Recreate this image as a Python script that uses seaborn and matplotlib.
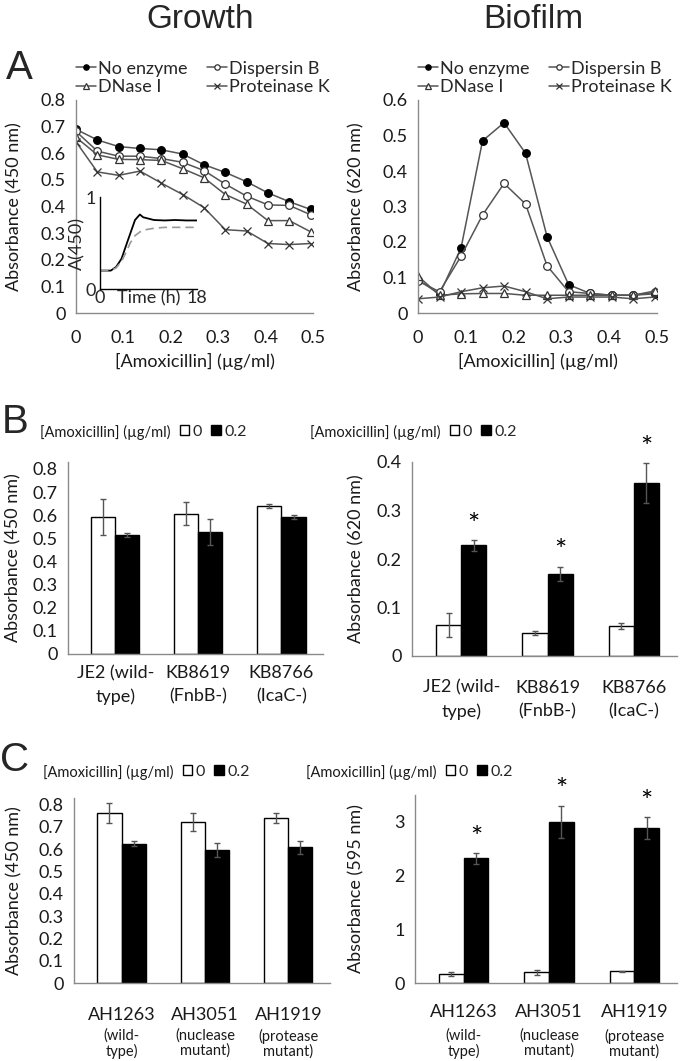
import matplotlib
matplotlib.use("Agg")
import matplotlib.pyplot as plt
import matplotlib.ticker as mticker
import seaborn as sns
import pandas as pd

# ---- data ----
conc = [0, 0.045, 0.09, 0.135, 0.18, 0.225, 0.27, 0.315, 0.36, 0.405, 0.45, 0.495]
enzymes = ["No enzyme", "Dispersin B", "DNase I", "Proteinase K"]

growth_none = [0.69, 0.65, 0.625, 0.618, 0.613, 0.597, 0.557, 0.528, 0.493, 0.451, 0.418, 0.389]
growth_dspb = [0.682, 0.608, 0.589, 0.589, 0.58, 0.566, 0.535, 0.484, 0.439, 0.406, 0.404, 0.369]
growth_dnase = [0.66, 0.594, 0.577, 0.576, 0.573, 0.542, 0.508, 0.445, 0.409, 0.347, 0.347, 0.305]
growth_protk = [0.643, 0.53, 0.517, 0.533, 0.488, 0.445, 0.396, 0.313, 0.308, 0.261, 0.257, 0.261]

biofilm_none = [0.094, 0.053, 0.183, 0.485, 0.536, 0.45, 0.215, 0.08, 0.055, 0.05, 0.05, 0.054]
biofilm_dspb = [0.09, 0.06, 0.16, 0.276, 0.365, 0.307, 0.133, 0.06, 0.055, 0.05, 0.05, 0.058]
biofilm_dnase = [0.104, 0.05, 0.054, 0.055, 0.055, 0.05, 0.05, 0.05, 0.05, 0.05, 0.05, 0.062]
biofilm_protk = [0.04, 0.045, 0.06, 0.071, 0.076, 0.06, 0.04, 0.045, 0.045, 0.045, 0.04, 0.045]

# inset growth curves
time_h = [0, 1, 2, 3, 4, 5, 5.6, 6.5, 7.4, 8, 10, 12, 14, 16, 18]
od_none = [0.2, 0.2, 0.2, 0.24, 0.33, 0.5, 0.6, 0.75, 0.81, 0.78, 0.75, 0.745, 0.75, 0.745, 0.745]
od_amox = [0.2, 0.2, 0.2, 0.23, 0.3, 0.42, 0.5, 0.58, 0.62, 0.64, 0.66, 0.67, 0.67, 0.67, 0.67]

amox_levels = ["0", "0.2"]

strains_b = ["JE2 (wild-\ntype)", "KB8619\n(FnbB-)", "KB8766\n(IcaC-)"]
b_growth_0 = [0.594, 0.607, 0.640]
b_growth_0_err = [0.078, 0.048, 0.008]
b_growth_2 = [0.514, 0.528, 0.592]
b_growth_2_err = [0.01, 0.057, 0.008]
b_biofilm_0 = [0.064, 0.048, 0.062]
b_biofilm_0_err = [0.025, 0.004, 0.006]
b_biofilm_2 = [0.228, 0.169, 0.356]
b_biofilm_2_err = [0.011, 0.015, 0.041]

strains_c = ["AH1263", "AH3051", "AH1919"]
strains_c_sub = ["(wild-\ntype)", "(nuclease\nmutant)", "(protease\nmutant)"]
c_growth_0 = [0.761, 0.721, 0.739]
c_growth_0_err = [0.045, 0.04, 0.022]
c_growth_2 = [0.625, 0.597, 0.609]
c_growth_2_err = [0.012, 0.033, 0.03]
c_biofilm_0 = [0.174, 0.20, 0.22]
c_biofilm_0_err = [0.04, 0.05, 0.01]
c_biofilm_2 = [2.32, 3.00, 2.89]
c_biofilm_2_err = [0.1, 0.3, 0.2]

# ---- style ----
sns.set_style("white")
plt.rcParams["font.family"] = ["Lato", "DejaVu Sans"]
plt.rcParams["axes.linewidth"] = 1.0

W, H = 680, 1061
fig = plt.figure(figsize=(W / 100, H / 100), dpi=100)

AXIS_GREY = "#8a8a8a"
LINE_GREY = "#555555"
TXT = "#1a1a1a"


def px_axes(left, top, right, bottom):
    ax = fig.add_axes([left / W, 1 - bottom / H, (right - left) / W, (bottom - top) / H])
    ax._px = (left, right)
    return ax


def excel_axes(ax, ylabel, label_px):
    sns.despine(ax=ax)
    for s in ("left", "bottom"):
        ax.spines[s].set_color(AXIS_GREY)
    ax.tick_params(axis="both", direction="out", length=4, width=1,
                   color=AXIS_GREY, labelsize=13, labelcolor=TXT)
    ax.set_ylabel(ylabel, fontsize=13, color=TXT)
    left, right = ax._px
    ax.yaxis.set_label_coords((label_px + 9 - left) / (right - left), 0.5)
    ax.yaxis.set_major_formatter(mticker.FuncFormatter(lambda v, p: f"{v:g}"))


def line_panel(ax, series, ylim, yticks, ylabel, legend_x, label_px):
    styles = [dict(marker="o", markerfacecolor="black", markeredgecolor="black"),
              dict(marker="o", markerfacecolor="white", markeredgecolor="#333333"),
              dict(marker="^", markerfacecolor="white", markeredgecolor="#333333"),
              dict(marker="x", markeredgecolor="#333333")]
    for name, vals, st in zip(enzymes, series, styles):
        sns.lineplot(x=conc, y=vals, ax=ax, color=LINE_GREY, linewidth=1.1,
                     markersize=5.5, markeredgewidth=0.9, label=name, **st)
    ax.set_xlim(0, 0.5)
    ax.set_ylim(*ylim)
    ax.set_xticks([0, 0.1, 0.2, 0.3, 0.4, 0.5])
    ax.set_yticks(yticks)
    ax.xaxis.set_major_formatter(mticker.FuncFormatter(lambda v, p: f"{v:g}"))
    excel_axes(ax, ylabel, label_px)
    ax.set_xlabel("[Amoxicillin] (µg/ml)", fontsize=13, color=TXT, labelpad=5)
    ax.tick_params(axis="x", pad=8)
    handles, labels = ax.get_legend_handles_labels()
    order = [0, 2, 1, 3]  # fill rows: No enzyme / Dispersin B on top
    ax.legend([handles[i] for i in order], [labels[i] for i in order], ncol=2,
              loc="center left", frameon=False,
              bbox_to_anchor=(legend_x / W, 1 - 78 / H), bbox_transform=fig.transFigure,
              fontsize=13, handlelength=1.1, handletextpad=0.1, columnspacing=1.1,
              labelspacing=0.15, borderpad=0, borderaxespad=0, markerscale=0.7)


def bar_panel(ax, strains, v0, e0, v2, e2, ylim, yticks, ylabel, label_px,
              xpad=9, stars=False):
    df = pd.DataFrame({"strain": strains * 2,
                       "amox": [amox_levels[0]] * 3 + [amox_levels[1]] * 3,
                       "absorbance": v0 + v2})
    sns.barplot(data=df, x="strain", y="absorbance", hue="amox", ax=ax,
                palette={"0": "white", "0.2": "black"}, edgecolor="black",
                linewidth=1, width=0.58, errorbar=None)
    for k, (cont, errs) in enumerate(zip(ax.containers, [e0, e2])):
        xs = [p.get_x() + p.get_width() / 2 for p in cont]
        ys = [p.get_height() for p in cont]
        ax.errorbar(xs, ys, yerr=errs, fmt="none", ecolor="#555555",
                    elinewidth=1, capsize=2.5, capthick=1)
        if stars and k == 1:
            for x, y, e in zip(xs, ys, errs):
                ax.annotate("*", xy=(x, y + e), xytext=(0, 1), textcoords="offset points",
                            ha="center", va="bottom", fontsize=21, color="black",
                            annotation_clip=False)
    ax.set_xlim(-0.57, 2.5)
    ax.set_ylim(*ylim)
    ax.set_yticks(yticks)
    excel_axes(ax, ylabel, label_px)
    ax.tick_params(axis="x", length=0, pad=xpad)
    ax.set_xlabel("")
    for t in ax.get_xticklabels():
        t.set_linespacing(1.55)
    ax.get_legend().remove()


def bar_legend(ax, text_x, y):
    handles, labels = ax.get_legend_handles_labels()
    t = fig.text(text_x / W, 1 - y / H, "[Amoxicillin] (µg/ml)", fontsize=10.5,
                 va="center", ha="left", color=TXT)
    fig.canvas.draw()
    ext = t.get_window_extent()
    ax.legend(handles[:2], labels[:2], ncol=2, loc="center left", frameon=False,
              bbox_to_anchor=((ext.x1 + 9) / W, 1 - y / H), bbox_transform=fig.transFigure,
              fontsize=11.5, handlelength=0.6, handleheight=0.6, handletextpad=0.2,
              columnspacing=0.6, borderpad=0, borderaxespad=0)


# ---- Panel A ----
ax_ag = px_axes(76, 100, 313, 313)
line_panel(ax_ag, [growth_none, growth_dspb, growth_dnase, growth_protk],
           (0, 0.8), [0, 0.1, 0.2, 0.3, 0.4, 0.5, 0.6, 0.7, 0.8],
           "Absorbance (450 nm)", 76, 13)

ax_ab = px_axes(418, 100, 657, 313)
line_panel(ax_ab, [biofilm_none, biofilm_dspb, biofilm_dnase, biofilm_protk],
           (0, 0.6), [0, 0.1, 0.2, 0.3, 0.4, 0.5, 0.6],
           "Absorbance (620 nm)", 418, 355)

# inset
ax_in = px_axes(100, 197, 197, 289)
ax_in.patch.set_alpha(0)
sns.lineplot(x=time_h, y=od_none, ax=ax_in, color="black", linewidth=1.3)
sns.lineplot(x=time_h, y=od_amox, ax=ax_in, color="#999999", linewidth=1.2, linestyle=(0, (5, 3)))
ax_in.set_xlim(0, 18)
ax_in.set_ylim(0, 1)
ax_in.set_xticks([0, 18])
ax_in.set_yticks([0, 1])
sns.despine(ax=ax_in)
for s in ("left", "bottom"):
    ax_in.spines[s].set_color("black")
ax_in.tick_params(axis="both", direction="in", length=3, width=1, labelsize=13, pad=1)
ax_in.tick_params(axis="y", pad=3)
ax_in.set_ylabel("A(450)", fontsize=13, labelpad=0)
ax_in.set_xlabel("")
ax_in.text(0.5, -0.015, "Time (h)", transform=ax_in.transAxes, ha="center", va="top", fontsize=13)

# ---- Panel B ----
ax_bg = px_axes(68, 462, 323, 654)
bar_panel(ax_bg, strains_b, b_growth_0, b_growth_0_err, b_growth_2, b_growth_2_err,
          (0, 0.83), [0, 0.1, 0.2, 0.3, 0.4, 0.5, 0.6, 0.7, 0.8], "Absorbance (450 nm)", 12,
          xpad=8)
bar_legend(ax_bg, 40, 432)

ax_bb = px_axes(412, 462, 677, 656)
bar_panel(ax_bb, strains_b, b_biofilm_0, b_biofilm_0_err, b_biofilm_2, b_biofilm_2_err,
          (0, 0.4), [0, 0.1, 0.2, 0.3, 0.4], "Absorbance (620 nm)", 355, xpad=17, stars=True)
bar_legend(ax_bb, 310, 432)

# ---- Panel C ----
ax_cg = px_axes(74, 798, 330, 983)
bar_panel(ax_cg, strains_c, c_growth_0, c_growth_0_err, c_growth_2, c_growth_2_err,
          (0, 0.83), [0, 0.1, 0.2, 0.3, 0.4, 0.5, 0.6, 0.7, 0.8], "Absorbance (450 nm)", 13,
          xpad=17)
bar_legend(ax_cg, 43, 772)

ax_cb = px_axes(415, 795, 677, 983)
bar_panel(ax_cb, strains_c, c_biofilm_0, c_biofilm_0_err, c_biofilm_2, c_biofilm_2_err,
          (0, 3.5), [0, 1, 2, 3], "Absorbance (595 nm)", 355, xpad=15, stars=True)
bar_legend(ax_cb, 306, 772)

for ax in (ax_cg, ax_cb):
    for i, sub in enumerate(strains_c_sub):
        ax.annotate(sub, xy=(i, 0), xycoords=ax.get_xaxis_transform(),
                    xytext=(0, -33), textcoords="offset points", ha="center", va="top",
                    fontsize=10.5, linespacing=1.05, color=TXT, annotation_clip=False)

# ---- titles and panel letters ----
big = ["Liberation Sans", "DejaVu Sans"]
fig.text(200 / W, 1 - 20 / H, "Growth", fontsize=24, ha="center", va="center", family=big)
fig.text(533 / W, 1 - 20 / H, "Biofilm", fontsize=24, ha="center", va="center", family=big)
fig.text(6 / W, 1 - 68 / H, "A", fontsize=29, ha="left", va="center", family=big)
fig.text(2 / W, 1 - 422 / H, "B", fontsize=29, ha="left", va="center", family=big)
fig.text(0 / W, 1 - 760 / H, "C", fontsize=29, ha="left", va="center", family=big)

fig.savefig("out.png", dpi=100)
